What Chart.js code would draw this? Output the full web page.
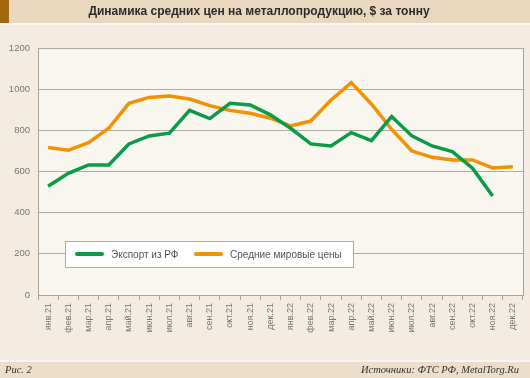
<!DOCTYPE html>
<html>
<head>
<meta charset="utf-8">
<script src="https://cdn.jsdelivr.net/npm/chart.js@4/dist/chart.umd.min.js"></script>
<style>
html,body{margin:0;padding:0;background:#f4ece0}
#wrap{width:530px;height:378px;position:relative}
</style>
</head>
<body>
<div id="wrap"><canvas id="chart" width="530" height="378"></canvas></div>
<script>
const months=["янв.21","фев.21","мар.21","апр.21","май.21","июн.21","июл.21","авг.21","сен.21","окт.21","ноя.21","дек.21",
"янв.22","фев.22","мар.22","апр.22","май.22","июн.22","июл.22","авг.22","сен.22","окт.22","ноя.22","дек.22"]
const exportRF=[528,591,632,632,734,773,786,897,857,931,923,875,810,734,724,789,750,867,773,724,697,616,481,null]
const worldAvg=[717,703,740,810,931,960,967,952,920,897,883,859,821,845,947,1032,928,805,700,669,656,656,617,623]
const yTicks=[0,200,400,600,800,1000,1200]
const seriesNames=["Экспорт из РФ","Средние мировые цены"]
const seriesColors=["#0b9a47","#f39200"]

const title="Динамика средних цен на металлопродукцию, $ за тонну"
const figLabel="Рис. 2"
const source="Источники: ФТС РФ, MetalTorg.Ru"

const frame={
id:"frame",
beforeDraw(c){
const g=c.ctx,a=c.chartArea
g.save()
g.fillStyle="#f4ece0"
g.fillRect(0,0,c.width,c.height)
// title band
g.fillStyle="#e9d8bd"
g.fillRect(0,0,c.width,23)
g.fillStyle="#a4690d"
g.fillRect(0,0,9,23)
g.fillStyle="#fbf7f0"
g.fillRect(0,23,c.width,2)
g.fillStyle="#2b2b2b"
g.font="bold 12px 'Liberation Sans', Arial, sans-serif"
g.textAlign="center"
g.textBaseline="middle"
g.fillText(title,259,12)
// footer band
g.fillStyle="#fbf7f0"
g.fillRect(0,360,c.width,2)
g.fillStyle="#ecdec8"
g.fillRect(0,362,c.width,16)
g.fillStyle="#333"
g.font="italic 10.5px 'Liberation Serif', 'DejaVu Serif', serif"
g.textAlign="left"
g.fillText(figLabel,5,370)
g.textAlign="right"
g.fillText(source,519,370)
// plot background
g.fillStyle="#faf7f0"
g.fillRect(a.left,a.top,a.right-a.left,a.bottom-a.top)
g.restore()
},
beforeDatasetsDraw(c){
const g=c.ctx,a=c.chartArea
g.save()
g.strokeStyle="#a8a39a"
g.lineWidth=1
g.beginPath()
g.moveTo(a.right+0.5,a.top)
g.lineTo(a.right+0.5,a.bottom)
g.stroke()
// legend box
const lx=a.left+27,ly=a.top+193,lw=288,lh=26
g.fillStyle="#ffffff"
g.fillRect(lx,ly,lw,lh)
g.strokeStyle="#b0aba3"
g.strokeRect(lx+0.5,ly+0.5,lw,lh)
const xs=[lx+12,lx+131]
g.font="10px 'Liberation Sans', Arial, sans-serif"
g.textBaseline="middle"
g.textAlign="left"
c.data.datasets.forEach((d,i)=>{
const y=ly+lh/2
g.strokeStyle=d.borderColor
g.lineWidth=4
g.lineCap="round"
g.beginPath()
g.moveTo(xs[i],y)
g.lineTo(xs[i]+25,y)
g.stroke()
g.fillStyle="#555"
g.fillText(d.label,xs[i]+34,y+1)
})
g.restore()
}
}

new Chart(document.getElementById("chart"),{
type:"line",
data:{
labels:months,
datasets:[
{label:seriesNames[0],data:exportRF,borderColor:seriesColors[0],borderWidth:3.5,pointRadius:0,tension:0,spanGaps:false},
{label:seriesNames[1],data:worldAvg,borderColor:seriesColors[1],borderWidth:3.5,pointRadius:0,tension:0}
]
},
options:{
responsive:false,
animation:false,
layout:{padding:{top:48,right:7,left:0,bottom:0}},
plugins:{legend:{display:false},tooltip:{enabled:false}},
scales:{
x:{
offset:true,
grid:{drawOnChartArea:false,drawTicks:true,tickLength:5,color:"#a8a39a",offset:true},
border:{color:"#a8a39a"},
ticks:{minRotation:90,maxRotation:90,autoSkip:false,padding:3,color:"#777",font:{size:9,family:"'Liberation Sans', Arial, sans-serif"}},
afterFit(s){s.height=83}
},
y:{
min:0,max:1200,
afterBuildTicks(s){s.ticks=yTicks.map(v=>({value:v}))},
grid:{color:"#b0aba3",drawTicks:false},
border:{color:"#a8a39a"},
ticks:{padding:8,color:"#777",font:{size:9.5,family:"'Liberation Sans', Arial, sans-serif"},callback:v=>String(v)},
afterFit(s){s.width=38}
}
}
},
plugins:[frame]
})
</script>
</body>
</html>
